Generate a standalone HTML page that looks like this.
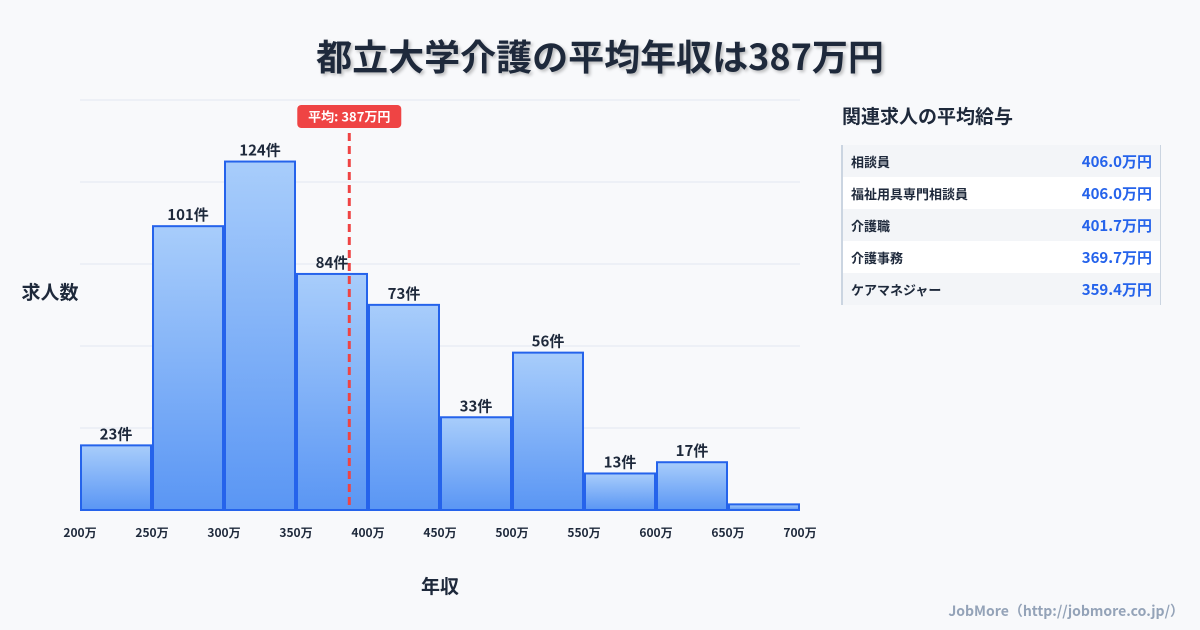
<!DOCTYPE html>
<html><head><meta charset="utf-8">
<style>
body{margin:0;background:#f8f9fb;font-family:"Liberation Sans","Noto Sans CJK JP",sans-serif;}
#wrap{position:relative;width:1200px;height:630px;overflow:hidden;background:#f8f9fb;}
h1{position:absolute;top:29px;left:0;width:1200px;text-align:center;margin:0;font-size:36px;font-weight:700;color:#1e293b;text-shadow:2px 2px 3px rgba(0,0,0,0.25);font-family:"Noto Sans CJK JP",sans-serif;}
.side-title{position:absolute;left:842px;top:102px;font-size:19px;font-weight:700;color:#1e293b;font-family:"Noto Sans CJK JP",sans-serif;}
table{position:absolute;left:841px;top:145px;width:320px;border-collapse:collapse;border-left:2px solid #cbd5e1;border-right:1px solid #cbd5e1;font-family:"Noto Sans CJK JP",sans-serif;}
td{height:32px;padding:0 8px;font-size:13px;font-weight:700;color:#1e293b;}
td.v{text-align:right;font-size:15px;color:#2563eb;}
tr:nth-child(odd){background:#f3f5f8}
tr:nth-child(even){background:#fff}
.foot{position:absolute;right:16px;top:601px;font-size:14px;font-weight:700;color:#94a3b8;font-family:"Noto Sans CJK JP",sans-serif;}
</style></head><body>
<div id="wrap">
<h1>都立大学介護の平均年収は387万円</h1>
<svg id="chart" width="1200" height="630" style="position:absolute;left:0;top:0">
<defs><linearGradient id="g" x1="0" y1="0" x2="0" y2="1"><stop offset="0" stop-color="#a8cdfb"/><stop offset="1" stop-color="#5a96f4"/></linearGradient></defs>
</svg>
<div class="side-title">関連求人の平均給与</div>
<table>
<tr><td>相談員</td><td class="v">406.0万円</td></tr>
<tr><td>福祉用具専門相談員</td><td class="v">406.0万円</td></tr>
<tr><td>介護職</td><td class="v">401.7万円</td></tr>
<tr><td>介護事務</td><td class="v">369.7万円</td></tr>
<tr><td>ケアマネジャー</td><td class="v">359.4万円</td></tr>
</table>
<div class="foot">JobMore（http://jobmore.co.jp/）</div>
</div>
<script>
const binStarts=[200,250,300,350,400,450,500,550,600,650];
const counts=[23,101,124,84,73,33,56,13,17,2];
const xTicks=[200,250,300,350,400,450,500,550,600,650,700];
const meanValue=387;
const yMax=145.9;
const NS="http://www.w3.org/2000/svg";
const svg=document.getElementById('chart');
const X=v=>80+(v-200)*720/500;
const Y=v=>510-v*410/yMax;
function mk(t,a){const e=document.createElementNS(NS,t);for(const k in a)e.setAttribute(k,a[k]);svg.appendChild(e);return e;}
const F='"Noto Sans CJK JP",sans-serif';
for(let i=0;i<=5;i++){const y=510-i*82;
const g=mk('line',{x1:80,x2:800,y1:y,y2:y,stroke:'#e2e8f0','stroke-width':1});
}
binStarts.forEach((b,i)=>{const x0=X(b)+1,x1=X(b+50)-1,y=Y(counts[i]);
const r=mk('rect',{x:x0,y:y,width:x1-x0,height:510-y,fill:'url(#g)',stroke:'#2563eb','stroke-width':2});

if(counts[i]>=5){const t=mk('text',{x:(x0+x1)/2,y:y-6,'text-anchor':'middle','font-size':15,'font-weight':700,fill:'#1e293b','font-family':F});t.textContent=counts[i]+'件';
}});
xTicks.forEach(v=>{const t=mk('text',{x:X(v),y:537,'text-anchor':'middle','font-size':12,'font-weight':700,fill:'#1e293b','font-family':F});t.textContent=v+'万';
});
const mx=X(meanValue);
const ml=mk('line',{x1:mx,x2:mx,y1:133,y2:510,stroke:'#ef4444','stroke-width':3,'stroke-dasharray':'8,5'});

const mb=mk('rect',{x:mx-52,y:105,width:104,height:23,rx:4,fill:'#ef4444'});

const mt=mk('text',{x:mx,y:121.5,'text-anchor':'middle','font-size':13,'font-weight':700,fill:'#fff','font-family':F});mt.textContent='平均: '+meanValue+'万円';

const yt=mk('text',{x:50,y:299,'text-anchor':'middle','font-size':19,'font-weight':700,fill:'#1e293b','font-family':F});yt.textContent='求人数';

const xt=mk('text',{x:440,y:593,'text-anchor':'middle','font-size':19,'font-weight':700,fill:'#1e293b','font-family':F});xt.textContent='年収';

</script>
</body></html>
